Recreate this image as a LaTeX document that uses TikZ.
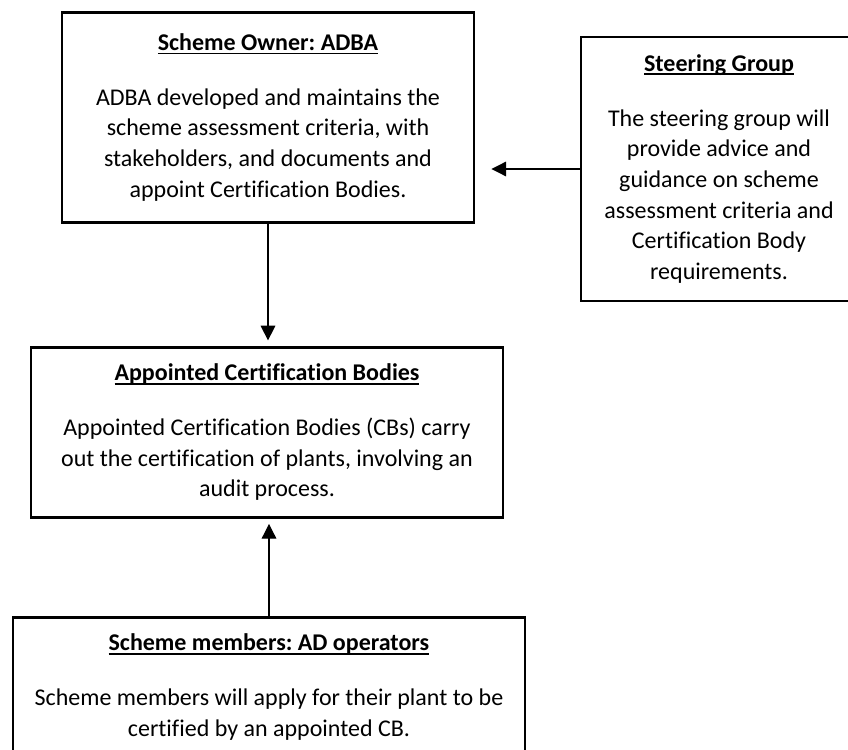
\documentclass[tikz,border=0pt]{standalone}
\usepackage{fontspec}
\setmainfont[Ligatures=NoCommon]{Carlito}
\frenchspacing
\usepackage{tikz}
\usetikzlibrary{arrows.meta}

% bold heading with a heavy underline
\newsavebox{\headbox}
\newcommand{\boxhead}[1]{\sbox{\headbox}{\textbf{#1}}%
    \rlap{\usebox{\headbox}}\rule[-2.8pt]{\wd\headbox}{1.3pt}\\[18pt]}

\begin{document}
\begin{tikzpicture}[x=0.75pt, y=-0.75pt,
    box/.style={draw, line width=2.2pt, rectangle, inner sep=0pt, align=center,
                font=\fontsize{18}{23}\selectfont},
    flow/.style={line width=0.9pt, -{Triangle[length=11pt, width=11pt]}}]

    % Page frame
    \useasboundingbox (0,0) rectangle (848,749);

    % =====================================================
    % BOXES
    % =====================================================
    % Scheme owner (top left)
    \node[box, minimum width=309pt, minimum height=157pt] (owner) at (268,117.5)
        {\boxhead{Scheme Owner: ADBA}
         ADBA developed and maintains the\\
         scheme assessment criteria, with\\
         stakeholders, and documents and\\
         appoint Certification Bodies.};

    % Steering group (top right, runs off the page)
    \node[box, minimum width=207pt, minimum height=198pt] (steering) at (719,169)
        {\boxhead{Steering Group}
         The steering group will\\
         provide advice and\\
         guidance on scheme\\
         assessment criteria and\\
         Certification Body\\
         requirements.};

    % Certification bodies (middle)
    \node[box, minimum width=354pt, minimum height=127pt] (bodies) at (267,432.5)
        {\boxhead{Appointed Certification Bodies}
         Appointed Certification Bodies (CBs) carry\\
         out the certification of plants, involving an\\
         audit process.};

    % Scheme members (bottom, runs off the page)
    \node[box, minimum width=384pt, minimum height=104pt] (members) at (269,687)
        {\boxhead{Scheme members: AD operators}
         Scheme members will apply for their plant to be\\
         certified by an appointed CB.};

    % =====================================================
    % ARROWS
    % =====================================================
    \draw[flow, shorten >=12pt] (steering.west) -- (steering.west -| owner.east);
    \draw[flow, shorten >=4.5pt] (owner.south) -- (owner.south |- bodies.north);
    \draw[flow, shorten >=4pt] (members.north) -- (members.north |- bodies.south);

\end{tikzpicture}
\end{document}
